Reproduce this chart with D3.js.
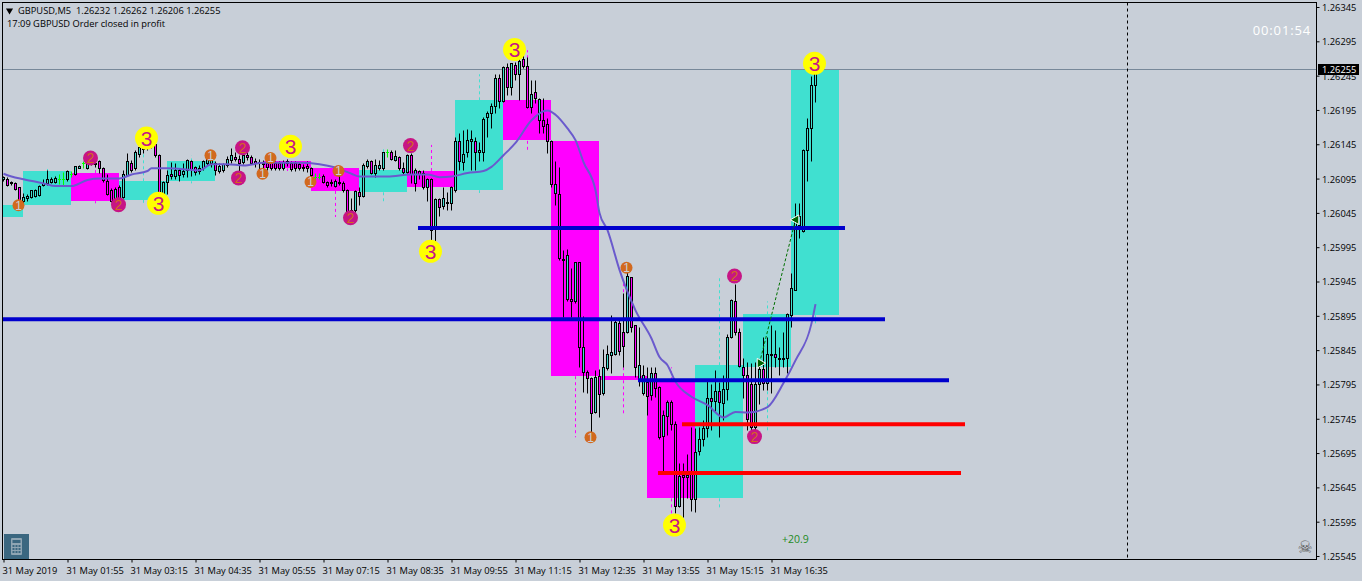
<!DOCTYPE html>
<html>
<head>
<script src="https://d3js.org/d3.v7.min.js"></script>
<style>
  html, body { margin: 0; padding: 0; background: #c8cfd8; overflow: hidden; }
  svg { display: block; }
  text { font-family: "Open Sans", "Noto Sans", sans-serif; font-size: 9.3px; fill: #000; white-space: pre; }
</style>
</head>
<body>
<svg class="target"></svg>
<script>

// prices are kept as points above 1.20000, so 6255 is 1.26255
const opens = [6094,6095,6090,6088,6082,6063,6067,6068,6069,6071,6085,6088,6090,6090,6095,6095,6094,6102,6102,6111,6117,6110,6117,6116,6120,6110,6092,6079,6063,6083,
  6068,6100,6118,6110,6131,6138,6140,6145,6145,6129,6073,6090,6102,6099,6108,6102,6108,6121,6112,6106,6110,6118,6117,6118,6106,6107,6115,6122,6127,6124,
  6119,6130,6127,6120,6119,6118,6117,6120,6117,6117,6110,6121,6118,6117,6116,6112,6114,6110,6098,6098,6099,6090,6088,6084,6090,6088,6079,6049,6049,6075,
  6069,6113,6120,6103,6110,6110,6133,6133,6122,6126,6110,6105,6130,6088,6106,6103,6082,6094,6022,6065,6055,6061,6059,6078,6150,6119,6133,6150,6150,6134,
  6133,6184,6190,6201,6241,6208,6257,6228,6260,6247,6269,6259,6200,6221,6181,6181,6174,6150,6074,6073,5978,5919,5919,5916,5973,5813,5813,5804,5755,5808,
  5782,5819,5838,5839,5884,5872,5871,5951,5881,5801,5782,5798,5780,5811,5791,5720,5749,5769,5738,5618,5663,5660,5668,5628,5698,5715,5732,5775,5771,5785,
  5768,5788,5864,5916,5872,5820,5809,5796,5733,5796,5817,5797,5838,5839,5834,5832,5833,5896,5933,6027,6018,6136,6168,6232]
const highs = [6099,6097,6092,6090,6083,6074,6072,6079,6080,6085,6094,6108,6098,6099,6102,6104,6108,6106,6114,6115,6121,6124,6125,6120,6122,6112,6102,6081,6082,6086,
  6107,6132,6122,6136,6146,6146,6150,6151,6148,6131,6092,6107,6119,6117,6110,6117,6123,6122,6114,6115,6122,6128,6130,6120,6117,6118,6128,6139,6133,6130,
  6133,6134,6129,6125,6124,6122,6122,6124,6120,6120,6122,6124,6121,6121,6119,6116,6120,6112,6103,6103,6101,6092,6094,6094,6107,6091,6080,6066,6078,6083,
  6117,6123,6122,6124,6122,6134,6138,6136,6136,6128,6119,6131,6132,6110,6108,6107,6096,6096,6066,6067,6083,6076,6084,6155,6161,6166,6167,6166,6156,6149,
  6184,6193,6205,6248,6248,6259,6263,6264,6265,6273,6275,6272,6239,6239,6212,6212,6183,6151,6120,6112,5991,5992,5964,5974,5974,5894,5816,5806,5816,5818,
  5847,5852,5896,5889,5891,5928,5959,5952,5882,5879,5823,5821,5821,5821,5792,5758,5772,5772,5741,5680,5680,5693,5733,5731,5733,5743,5801,5796,5816,5799,
  5809,5869,5920,5942,5877,5833,5828,5826,5828,5830,5864,5864,5881,5874,5850,5872,5899,5957,6059,6060,6138,6183,6245,6262]
const lows = [6092,6084,6085,6079,6051,6058,6063,6066,6068,6070,6084,6086,6088,6088,6087,6085,6092,6097,6100,6110,6110,6109,6115,6112,6103,6090,6071,6061,6058,6056,
  6066,6099,6105,6108,6127,6132,6136,6140,6127,6063,6068,6073,6095,6094,6092,6097,6098,6099,6100,6101,6107,6115,6112,6100,6103,6105,6112,6117,6120,6106,
  6116,6122,6116,6112,6107,6105,6108,6107,6108,6108,6108,6113,6106,6106,6107,6106,6105,6098,6094,6094,6088,6083,6084,6082,6086,6076,6046,6044,6047,6056,
  6068,6110,6101,6098,6108,6108,6127,6122,6120,6108,6100,6103,6088,6077,6094,6080,6063,6005,6004,6041,6051,6049,6049,6076,6107,6107,6127,6107,6107,6120,
  6120,6156,6168,6190,6198,6206,6217,6217,6238,6209,6256,6198,6190,6205,6161,6161,6132,6083,6056,5976,5893,5917,5893,5914,5821,5784,5782,5726,5753,5748,
  5780,5816,5811,5838,5838,5821,5870,5872,5806,5792,5779,5750,5772,5777,5716,5665,5721,5728,5607,5617,5602,5629,5610,5609,5692,5706,5719,5728,5755,5719,
  5743,5772,5862,5867,5821,5775,5728,5728,5714,5767,5787,5787,5782,5821,5809,5821,5811,5879,5932,6008,6017,6092,6121,6206]
const closes = [6097,6085,6088,6080,6063,6068,6069,6078,6079,6084,6089,6095,6094,6096,6095,6095,6106,6102,6113,6113,6117,6117,6119,6118,6110,6093,6073,6063,6080,6066,
  6101,6120,6107,6134,6141,6140,6145,6143,6129,6075,6090,6100,6099,6107,6100,6106,6122,6109,6105,6110,6120,6124,6122,6107,6113,6116,6124,6129,6123,6117,
  6129,6127,6118,6117,6117,6116,6112,6110,6110,6110,6119,6118,6109,6110,6110,6111,6110,6100,6098,6098,6090,6085,6090,6091,6088,6078,6048,6047,6077,6069,
  6115,6120,6103,6115,6115,6133,6133,6124,6128,6110,6105,6130,6101,6108,6101,6083,6094,6020,6065,6054,6066,6059,6082,6150,6120,6131,6151,6153,6134,6136,
  6182,6191,6201,6241,6208,6257,6228,6263,6247,6267,6259,6200,6218,6212,6211,6172,6150,6087,6087,5979,5977,5984,5916,5973,5850,5849,5804,5754,5806,5781,
  5820,5840,5842,5886,5844,5851,5953,5879,5820,5824,5809,5778,5811,5790,5719,5750,5769,5737,5618,5661,5660,5663,5628,5696,5715,5732,5775,5771,5785,5770,
  5788,5864,5918,5872,5822,5809,5745,5733,5796,5817,5797,5839,5840,5835,5832,5834,5897,5935,6039,6041,6137,6168,6232,6255]

// moving average, read at the bars where it bends
const maIndex = [0,2,5,10,13,17,21,24,29,32,36,37,41,49,52,56,60,65,74,79,83,87,89,96,102,106,109,112,116,120,122,125,128,132,136,138,141,143,145,148,149,151,154,158,162,164,166,168,172,176,180,183,186,191,195,198,202,203]
const maValue = [6102,6098,6094,6088,6084,6084,6093,6095,6095,6101,6106,6110,6110,6107,6116,6116,6114,6118,6118,6116,6111,6102,6098,6098,6101,6101,6097,6098,6103,6106,6112,6129,6147,6180,6194,6188,6168,6151,6119,6078,6045,6020,5962,5903,5862,5835,5823,5799,5777,5765,5747,5755,5754,5762,5797,5830,5884,5912]

// hourly candles shown behind the M5 bars
const zoneStart = [-7,5,17,29,41,65,77,89,101,113,125,137,149,161,173,185,197]
const zoneOpen  = [6039,6056,6103,6064,6091,6120,6110,6075,6106,6078,6209,6150,5807,5801,5629,5820,5896]
const zoneClose = [6056,6106,6062,6091,6120,6110,6077,6107,6083,6209,6150,5807,5801,5629,5823,5897,6255]
const zoneHigh  = [6056,6109,6110,6139,6129,6123,6110,6141,6144,6247,6282,6150,5943,5820,5953,5916,6262]
const zoneLow   = [6039,6056,6059,6059,6088,6106,6039,6062,6005,6074,6137,5718,5753,5607,5612,5724,5884]

const levelValue = [6023,5890,5801,5737,5666]
const levelFrom  = [104,-1,159,170,164]
const levelTo    = [210,220,236,240,239]
const levelColor = ['#0000cd','#0000cd','#0000cd','#ff0000','#ff0000']

const markIndex = [4,52,65,67,77,84,147,156, 22,29,60,59,87,102,183,188, 36,39,72,107,128,168,203]
const markValue = [6056,6129,6102,6125,6090,6106,5718,5965, 6125,6057,6140,6096,6038,6143,5953,5719, 6154,6059,6142,5989,6283,5590,6263]
const markWave  = [1,1,1,1,1,1,1,1, 2,2,2,2,2,2,2,2, 3,3,3,3,3,3,3]

const tradeIndex = [189,198]
const tradeValue = [5826,6035]

const priceTicks = d3.range(6345, 5544, -50)
const timeTicks = d3.range(0, 193, 16)
const timeLabels = ['31 May 2019','31 May 01:55','31 May 03:15','31 May 04:35','31 May 05:55','31 May 07:15','31 May 08:35','31 May 09:55','31 May 11:15','31 May 12:35','31 May 13:55','31 May 15:15','31 May 16:35']

const width = 1362
const height = 581
const plot = { left: 2.5, top: 2.5, right: 1316.5, bottom: 559.5 }

const fmt = v => (1.2 + v / 1e5).toFixed(5)

const xScale = d3.scaleLinear([0, 203], [3.5, 815.5])
const yScale = d3.scaleLinear([6345, 5545], [7, 556])
const snap = v => Math.round(yScale(v)) + 0.5

const svg = d3.select('.target').attr('width', width).attr('height', height)

svg.append('clipPath').attr('id', 'plot-clip').append('rect')
    .attr('x', plot.left).attr('y', plot.top)
    .attr('width', plot.right - plot.left).attr('height', plot.bottom - plot.top)

const chart = svg.append('g').attr('clip-path', 'url(#plot-clip)')

// hourly zones
const zoneColor = i => zoneClose[i] >= zoneOpen[i] ? '#40e0d0' : '#ff00ff'
chart.append('g').selectAll('rect')
    .data(zoneStart)
    .join('rect')
      .attr('x', d => xScale(d) - 0.5)
      .attr('width', d => xScale(d + 12) - xScale(d))
      .attr('y', (d, i) => Math.round(yScale(Math.max(zoneOpen[i], zoneClose[i]))))
      .attr('height', (d, i) => Math.round(Math.abs(yScale(zoneOpen[i]) - yScale(zoneClose[i]))))
      .attr('fill', (d, i) => zoneColor(i))

// hourly wicks are dashed
const wicks = chart.append('g').attr('stroke-dasharray', '3,3').attr('stroke-width', 1)
zoneStart.forEach((d, i) => {
  const x = xScale(d + 6)
  wicks.append('line').attr('x1', x).attr('x2', x)
      .attr('y1', yScale(Math.max(zoneOpen[i], zoneClose[i]))).attr('y2', yScale(zoneHigh[i]))
      .attr('stroke', zoneColor(i))
  wicks.append('line').attr('x1', x).attr('x2', x)
      .attr('y1', yScale(Math.min(zoneOpen[i], zoneClose[i]))).attr('y2', yScale(zoneLow[i]))
      .attr('stroke', zoneColor(i))
})

// bid line
chart.append('line')
    .attr('x1', plot.left).attr('x2', plot.right)
    .attr('y1', snap(closes[203])).attr('y2', snap(closes[203]))
    .attr('stroke', '#778899')

// period separator
chart.append('line')
    .attr('x1', 1127.5).attr('x2', 1127.5)
    .attr('y1', plot.top).attr('y2', plot.bottom)
    .attr('stroke', '#000').attr('stroke-dasharray', '3,3')

// M5 candles
const bars = chart.append('g').selectAll('g')
    .data(d3.range(opens.length))
    .join('g')
      .attr('transform', i => `translate(${xScale(i)},0)`)

bars.append('line')
    .attr('y1', i => snap(highs[i]))
    .attr('y2', i => snap(lows[i]))
    .attr('stroke', i => opens[i] === closes[i] ? '#00ff00' : '#000')

bars.filter(i => opens[i] !== closes[i]).append('rect')
    .attr('x', -1)
    .attr('width', 2)
    .attr('y', i => snap(Math.max(opens[i], closes[i])))
    .attr('height', i => Math.max(1, snap(Math.min(opens[i], closes[i])) - snap(Math.max(opens[i], closes[i]))))
    .attr('fill', i => closes[i] > opens[i] ? '#40e0d0' : '#ff00ff')
    .attr('stroke', '#000')

bars.filter(i => opens[i] === closes[i]).append('line')
    .attr('x1', -1.5).attr('x2', 1.5)
    .attr('y1', i => snap(opens[i])).attr('y2', i => snap(opens[i]))
    .attr('stroke', '#00ff00')

// moving average
chart.append('path')
    .attr('d', d3.line().curve(d3.curveMonotoneX).x((d, i) => xScale(maIndex[i])).y(d => yScale(d))(maValue))
    .attr('fill', 'none')
    .attr('stroke', '#6a5acd')
    .attr('stroke-width', 2)

// horizontal levels
chart.append('g').selectAll('line')
    .data(levelValue)
    .join('line')
      .attr('x1', (d, i) => xScale(levelFrom[i]) - 1.5)
      .attr('x2', (d, i) => xScale(levelTo[i]) + 1.5)
      .attr('y1', d => yScale(d)).attr('y2', d => yScale(d))
      .attr('stroke', (d, i) => levelColor[i])
      .attr('stroke-width', 4)

// closed trade
chart.append('path')
    .attr('d', d3.line().x((d, i) => xScale(tradeIndex[i])).y(d => yScale(d))(tradeValue))
    .attr('fill', 'none')
    .attr('stroke', '#007000')
    .attr('stroke-dasharray', '3,2')

const arrow = d3.symbol(d3.symbolTriangle, 40)()
chart.append('g').selectAll('path')
    .data(tradeValue)
    .join('path')
      .attr('d', arrow)
      .attr('transform', (d, i) => `translate(${xScale(tradeIndex[i]) + 0.5},${yScale(d)}) rotate(${i ? -90 : 90})`)
      .attr('fill', '#006400')
      .attr('stroke', '#fff')

// wave counters
const markStyle = {
  1: { r: 6, fill: '#d2691e', text: '#c8cfd8', size: 12 },
  2: { r: 7.5, fill: '#c71585', text: '#d2691e', size: 14 },
  3: { r: 11.5, fill: '#ffff00', text: '#c71585', size: 21 }
}
const marks = chart.append('g').selectAll('g')
    .data(markIndex)
    .join('g')
      .attr('transform', (d, i) => `translate(${xScale(d) - 1},${yScale(markValue[i])})`)

marks.append('circle')
    .attr('r', (d, i) => markStyle[markWave[i]].r)
    .attr('fill', (d, i) => markStyle[markWave[i]].fill)

marks.append('text')
    .attr('text-anchor', 'middle')
    .attr('dy', '0.36em')
    .style('font-family', '"Liberation Sans"')
    .style('font-size', (d, i) => markStyle[markWave[i]].size + 'px')
    .style('fill', (d, i) => markStyle[markWave[i]].text)
    .text((d, i) => markWave[i])

// frame
svg.append('rect')
    .attr('x', plot.left).attr('y', plot.top)
    .attr('width', plot.right - plot.left).attr('height', plot.bottom - plot.top)
    .attr('fill', 'none').attr('stroke', '#000')

// axes
const yAxis = d3.axisRight(yScale)
    .tickValues(priceTicks)
    .tickFormat(fmt)
    .tickSize(3)
    .tickPadding(2.5)

const gy = svg.append('g')
    .attr('transform', `translate(${plot.right},0)`)
    .call(yAxis)
gy.select('.domain').remove()
gy.selectAll('line').attr('stroke', '#000')
gy.selectAll('text').attr('y', 0.5)

const xAxis = d3.axisBottom(xScale)
    .tickValues(timeTicks)
    .tickFormat((d, i) => timeLabels[i])
    .tickSize(3)

const gx = svg.append('g')
    .attr('transform', `translate(0,${plot.bottom})`)
    .call(xAxis)
gx.select('.domain').remove()
gx.selectAll('text')
    .attr('text-anchor', 'start')
    .attr('x', -1.5)
    .attr('y', 14)
    .attr('dy', 0)

// current price tag
svg.append('rect')
    .attr('x', 1318).attr('y', 64).attr('width', 41).attr('height', 11)
    .attr('fill', '#000')
svg.append('text')
    .attr('x', 1322).attr('y', yScale(closes[203]) + 4)
    .style('fill', '#fff')
    .text(fmt(closes[203]))

// header
svg.append('path')
    .attr('d', d3.symbol(d3.symbolTriangle, 22)())
    .attr('transform', 'translate(9.5,10.5) rotate(180)')
    .attr('fill', '#000')
svg.append('text')
    .attr('x', 18).attr('y', 14)
    .text(`GBPUSD,M5  ${fmt(opens[203])} ${fmt(highs[203])} ${fmt(lows[203])} ${fmt(closes[203])}`)
svg.append('text')
    .attr('x', 7).attr('y', 27)
    .text('17:09 GBPUSD Order closed in profit')

svg.append('text')
    .attr('x', 1311).attr('y', 35)
    .attr('text-anchor', 'end')
    .style('font-size', '13px')
    .style('letter-spacing', '0.85px')
    .style('fill', '#ffffff')
    .text('00:01:54')

svg.append('text')
    .attr('x', 782).attr('y', 543)
    .style('font-size', '10.5px')
    .style('fill', '#1e8b1e')
    .text('+20.9')

// skull in the corner
svg.append('text')
    .attr('x', 1305).attr('y', 553)
    .attr('text-anchor', 'middle')
    .style('font-family', '"DejaVu Sans"')
    .style('font-size', '17px')
    .style('fill', '#555')
    .text('\u2620')

// calculator button
const calc = svg.append('g').attr('transform', 'translate(4,534)')
calc.append('rect').attr('width', 25).attr('height', 25).attr('fill', '#3b6780')
calc.append('rect').attr('x', 7).attr('y', 4).attr('width', 11).attr('height', 17).attr('rx', 1).attr('fill', '#8fa5b3')
calc.append('rect').attr('x', 8.5).attr('y', 6).attr('width', 8).attr('height', 3).attr('fill', '#3b6780')
d3.range(9).forEach(k => {
  calc.append('rect')
      .attr('x', 8.5 + (k % 3) * 3)
      .attr('y', 11 + Math.floor(k / 3) * 3)
      .attr('width', 2).attr('height', 2)
      .attr('fill', '#3b6780')
})

</script>
</body>
</html>
